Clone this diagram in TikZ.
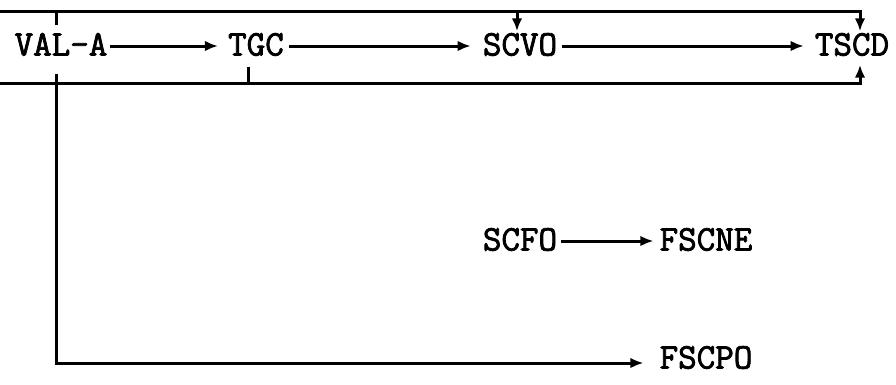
\documentclass[tikz,border=0pt]{standalone}
\usepackage{fontspec}
\newfontfamily\lblfont[FakeBold=2.2]{Latin Modern Mono}
\usetikzlibrary{arrows.meta,calc}
\tikzset{
  lbl/.style={font=\lblfont\fontsize{36}{40}\selectfont, inner sep=0pt, text height=19pt, text depth=0pt},
  ln/.style={line width=3pt, line join=miter},
  arr/.style={ln, -{Latex[length=13pt,width=10.5pt]}}
}
\begin{document}
\begin{tikzpicture}[x=1pt,y=-1pt]
\useasboundingbox (0,0) rectangle (896,384);
\node[lbl] (v) at (61,46) {VAL-A};
\node[lbl] (t) at (256,46) {TGC};
\node[lbl] (s) at (520,46) {SCVO};
\node[lbl] (d) at (852,46) {TSCD};
\node[lbl] (f) at (520,241) {SCFO};
\node[lbl] (n) at (706,241) {FSCNE};
\node[lbl] (p) at (706,359) {FSCPO};
\coordinate (top) at (0,11);
\coordinate (bot) at (0,83);
% main row
\draw[arr] ([xshift=2pt]v.east) -- ([xshift=-10pt]t.west);
\draw[arr] ([xshift=5pt]t.east) -- ([xshift=-12pt]s.west);
\draw[arr] ([xshift=5pt]s.east) -- ([xshift=-11pt]d.west);
% top loop
\draw[arr] ([xshift=-5pt,yshift=11pt]v.north) |- (top) -| ([xshift=8pt,yshift=5pt]d.north);
\draw[arr] ([xshift=-3pt]s.north |- top) -- ([xshift=-3pt,yshift=5pt]s.north);
% bottom loop
\draw[arr] ([xshift=-8pt,yshift=-11pt]t.south) |- (bot) -| ([xshift=8pt,yshift=-9pt]d.south);
% down to FSCPO
\draw[arr] ([xshift=-5pt,yshift=-18pt]v.south) |- ([xshift=-16pt,yshift=-4pt]p.west);
% SCFO -> FSCNE
\draw[arr] ([xshift=4pt]f.east) -- ([xshift=-6pt]n.west);
\end{tikzpicture}
\end{document}
